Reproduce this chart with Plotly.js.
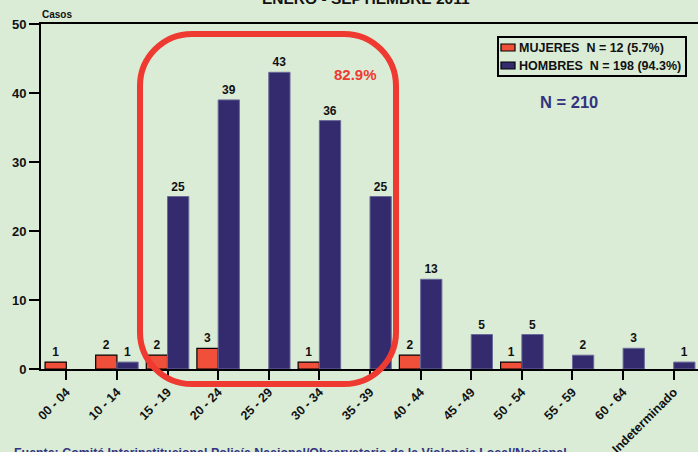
<!DOCTYPE html>
<html><head><meta charset="utf-8">
<script src="https://cdn.plot.ly/plotly-3.0.1.min.js"></script>
<style>html,body{margin:0;padding:0;background:#DAECD6;}</style>
</head><body><div id="chart" style="width:698px;height:452px;"></div>
<script>
const categories = ["00 - 04","10 - 14","15 - 19","20 - 24","25 - 29","30 - 34","35 - 39","40 - 44","45 - 49","50 - 54","55 - 59","60 - 64","Indeterminado"];
const mujeres = [1,2,2,3,0,1,0,2,0,1,0,0,0];
const hombres = [0,1,25,39,43,36,25,13,5,5,2,3,1];
const seriesNames = ["MUJERES  N = 12 (5.7%)","HOMBRES  N = 198 (94.3%)"];
const titleText = "ENERO - SEPTIEMBRE 2011";
const sourceText = "Fuente: Comité Interinstitucional Policía Nacional/Observatorio de la Violencia Local/Nacional";

const W = 698, H = 452, ML = 41, MR = 0, MT = 24, MB = 83;
const PW = W - ML - MR, PH = H - MT - MB;
const px = x => (x - ML) / PW;
const py = y => (H - MB - y) / PH;
const F = "Liberation Sans, Arial, sans-serif";
const lbl = a => a.map(v => v ? String(v) : "");
const lw = (a, w) => a.map(v => v ? w : 0);

function roundRectPath(x0, y0, x1, y1, r) {
  const k = 0.5523 * r;
  const P = (x, y) => px(x).toFixed(5) + "," + py(y).toFixed(5);
  return "M" + P(x0 + r, y0) + " L" + P(x1 - r, y0) +
    " C" + P(x1 - r + k, y0) + " " + P(x1, y0 + r - k) + " " + P(x1, y0 + r) +
    " L" + P(x1, y1 - r) +
    " C" + P(x1, y1 - r + k) + " " + P(x1 - r + k, y1) + " " + P(x1 - r, y1) +
    " L" + P(x0 + r, y1) +
    " C" + P(x0 + r - k, y1) + " " + P(x0, y1 - r + k) + " " + P(x0, y1 - r) +
    " L" + P(x0, y0 + r) +
    " C" + P(x0, y0 + r - k) + " " + P(x0 + r - k, y0) + " " + P(x0 + r, y0) + " Z";
}
const colF = "#F0503A", colM = "#332B6E";
const txtFont = {family: F, size: 12, color: "#111", weight: "bold"};
const traces = [
  {type: "bar", x: categories, y: mujeres, name: seriesNames[0], text: lbl(mujeres),
   textposition: "outside", textfont: txtFont, cliponaxis: false, showlegend: false,
   marker: {color: colF, line: {color: "#000", width: lw(mujeres, 1.2)}}},
  {type: "bar", x: categories, y: hombres, name: seriesNames[1], text: lbl(hombres),
   textposition: "outside", textfont: txtFont, cliponaxis: false, showlegend: false,
   marker: {color: colM, line: {color: "#6A6A9A", width: lw(hombres, 1)}}}
];

const P = (x, y) => ({x: px(x), y: py(y)});
const rectShape = (x0, y0, x1, y1, fill, lc, w) => ({type: "rect", xref: "paper", yref: "paper",
  x0: px(x0), x1: px(x1), y0: py(y0), y1: py(y1), fillcolor: fill, line: {color: lc, width: w}});

const layout = {
  width: W, height: H,
  margin: {l: ML, r: MR, t: MT, b: MB},
  paper_bgcolor: "#DAECD6", plot_bgcolor: "#DAECD6",
  barmode: "group", bargap: 0.16, bargroupgap: 0,
  font: {family: F, color: "#111", weight: "bold"},
  xaxis: {type: "category", range: [-0.5, 12.48], showline: true, linecolor: "#000", linewidth: 2,
    mirror: true, ticks: "outside", ticklen: 9, tickwidth: 2, tickcolor: "#000",
    tickangle: -45, tickfont: {family: F, size: 12.5, color: "#111", weight: "bold"},
    showgrid: false, zeroline: false},
  yaxis: {range: [0, 50], dtick: 10, showline: true, linecolor: "#000", linewidth: 2,
    ticks: "outside", ticklen: 10, tickwidth: 2, tickcolor: "#000",
    tickfont: {family: F, size: 13, color: "#111", weight: "bold"},
    showgrid: false, zeroline: false},
  showlegend: false,
  shapes: [
    {type: "path", xref: "paper", yref: "paper", path: roundRectPath(140, 34, 396, 384, 52),
     line: {color: "#EE3A30", width: 6}, layer: "above"},
    rectShape(498, 37, 686, 76, "#DAECD6", "#000", 2),
    rectShape(501, 44, 515, 51, colF, "#000", 1.2),
    rectShape(501, 62, 515, 69, colM, "#000", 1.2)
  ],
  annotations: [
    {xref: "paper", yref: "paper", x: px(366), y: py(-1), text: titleText, showarrow: false,
     xanchor: "center", yanchor: "middle", font: {family: F, size: 15.5, color: "#111", weight: "bold"}},
    {xref: "paper", yref: "paper", x: px(40), y: py(14), text: "Casos", showarrow: false,
     xanchor: "left", yanchor: "middle", font: {family: F, size: 10, color: "#111", weight: "bold"}},
    {xref: "paper", yref: "paper", x: px(517), y: py(48), text: seriesNames[0], showarrow: false,
     xanchor: "left", yanchor: "middle", font: {family: F, size: 12.5, color: "#111", weight: "bold"}},
    {xref: "paper", yref: "paper", x: px(517), y: py(66), text: seriesNames[1], showarrow: false,
     xanchor: "left", yanchor: "middle", font: {family: F, size: 12.5, color: "#111", weight: "bold"}},
    {xref: "paper", yref: "paper", x: px(355), y: py(74), text: "82.9%", showarrow: false,
     xanchor: "center", yanchor: "middle", font: {family: F, size: 15, color: "#EE3A30", weight: "bold"}},
    {xref: "paper", yref: "paper", x: px(569), y: py(102), text: "N = 210", showarrow: false,
     xanchor: "center", yanchor: "middle", font: {family: F, size: 16.5, color: "#33337F", weight: "bold"}},
    {xref: "paper", yref: "paper", x: px(12), y: py(444), text: sourceText, showarrow: false,
     xanchor: "left", yanchor: "top", font: {family: F, size: 12.4, color: "#33337F", weight: "bold"}}
  ]
};
Plotly.newPlot("chart", traces, layout, {displayModeBar: false, staticPlot: true});
</script></body></html>
